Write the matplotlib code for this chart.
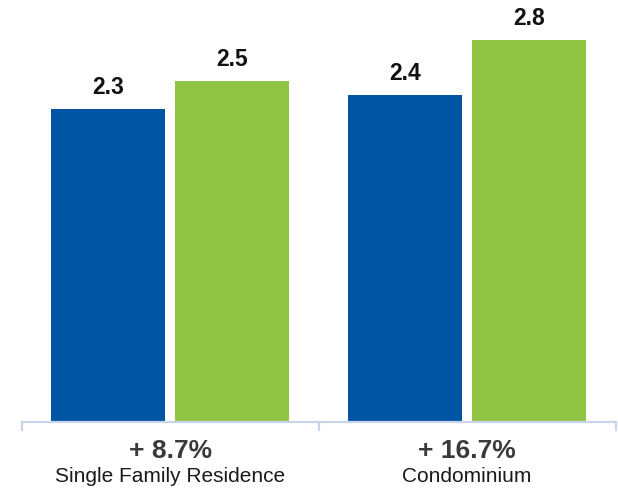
import matplotlib
matplotlib.use("Agg")
import matplotlib.pyplot as plt
import numpy as np

plt.rcParams["font.family"] = ["Liberation Sans", "DejaVu Sans"]

categories = ["Single Family Residence", "Condominium"]
changes = ["+ 8.7%", "+ 16.7%"]
prior_values = [2.3, 2.4]
current_values = [2.5, 2.8]

BLUE = "#0054a4"
GREEN = "#92c443"
AXIS = "#c9d4e8"

W, H = 618, 491
fig = plt.figure(figsize=(W / 100, H / 100), dpi=100)
base_px = 422
left_px, right_px = 22, 615.5
ax = fig.add_axes([left_px / W, (H - base_px) / H, (right_px - left_px) / W, base_px / H])

x = np.arange(len(categories))
px_per_unit = (right_px - left_px) / 2.0
bar_w = 114 / px_per_unit
offset = 62 / px_per_unit

b1 = ax.bar(x - offset, prior_values, width=bar_w, color=BLUE)
b2 = ax.bar(x + offset, current_values, width=bar_w, color=GREEN)

ax.set_xlim(-0.5, 1.5)
ax.set_ylim(0, base_px / 136.3)

for bars, vals in ((b1, prior_values), (b2, current_values)):
    for rect, v in zip(bars, vals):
        ax.annotate(f"{v:.1f}", (rect.get_x() + rect.get_width() / 2, v),
                    xytext=(0, 10.8), textcoords="offset points",
                    ha="center", va="baseline", fontsize=16.5,
                    fontweight="bold", color="#111111")

for s in ("top", "right", "left"):
    ax.spines[s].set_visible(False)
ax.spines["bottom"].set_color(AXIS)
ax.spines["bottom"].set_linewidth(1.6)
ax.set_yticks([])
ax.set_xticks([-0.5, 0.5, 1.5])
ax.set_xticklabels([])
ax.tick_params(axis="x", direction="out", length=6.5, width=1.6, color=AXIS)

for xi, chg, cat in zip(x, changes, categories):
    ax.annotate(chg, (xi, 0), xytext=(0, -(458 - base_px) * 0.72),
                textcoords="offset points", ha="center", va="baseline",
                fontsize=19, fontweight="bold", color="#3a3a3a")
    ax.annotate(cat, (xi, 0), xytext=(0, -(482 - base_px) * 0.72),
                textcoords="offset points", ha="center", va="baseline",
                fontsize=15, color="#1a1a1a")

fig.savefig("out.png", dpi=100)
